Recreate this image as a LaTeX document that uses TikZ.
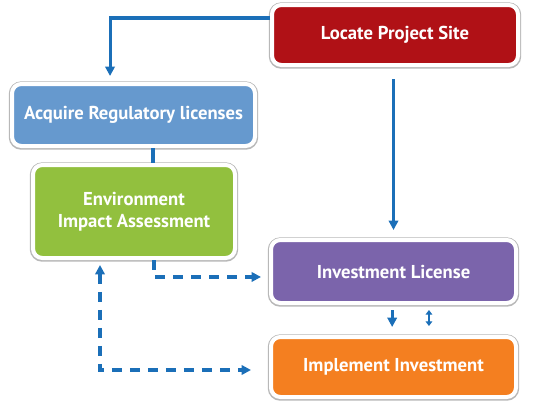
\documentclass[tikz,border=0pt]{standalone}
\usepackage{fontspec}
\setmainfont{PT Sans}
\usetikzlibrary{arrows.meta, calc}
\definecolor{locred}{RGB}{176,17,22}
\definecolor{acqblue}{RGB}{102,153,206}
\definecolor{eiagreen}{RGB}{146,192,62}
\definecolor{invpurple}{RGB}{123,100,171}
\definecolor{imporange}{RGB}{244,127,32}
\definecolor{linkblue}{RGB}{27,111,184}
\tikzset{
    stage/.style={rectangle, rounded corners=7pt, fill=#1, draw=white, line width=3pt, text=white, align=center, font=\fontsize{14}{16.5}\selectfont\bfseries, inner sep=2pt, preaction={draw=black!28, line width=4.8pt, transform canvas={yshift=-0.4pt}}},
    link/.style={line width=2.3pt, color=linkblue},
    flow/.style={link, -{Triangle[length=7pt, width=7pt]}},
    flowdash/.style={flow, dash pattern=on 7.5pt off 6pt},
    flowdashboth/.style={flowdash, {Triangle[length=7pt, width=7pt]}-{Triangle[length=7pt, width=7pt]}},
    % small two-way hint between license and implementation
    twoway/.style={line width=1.3pt, color=linkblue, dash pattern=on 6pt off 3pt, {Triangle[length=3.5pt, width=5pt]}-{Triangle[length=3.5pt, width=5pt]}}
}

\begin{document}
\begin{tikzpicture}[x=0.75pt, y=-0.75pt]
    \useasboundingbox (0,0) rectangle (539,400);
    \node[stage=locred, minimum width=184.5pt, minimum height=45pt] (loc) at (395,35) {Locate Project Site};
    \node[stage=acqblue, minimum width=182.25pt, minimum height=46.5pt] (acq) at (133.5,115) {Acquire Regulatory licenses};
    \node[stage=eiagreen, minimum width=151.5pt, minimum height=69.75pt] (eia) at (134,211.5) {Environment\\Impact Assessment};
    \node[stage=invpurple, minimum width=183.75pt, minimum height=47.25pt] (inv) at (393.5,271.5) {Investment License};
    \node[stage=imporange, minimum width=183.75pt, minimum height=45pt] (imp) at (393.5,367) {Implement Investment};

    \draw[flow] ([yshift=12.75pt]loc.west) -| ([xshift=-17.6pt, yshift=4.5pt]acq.north);
    \draw[flow, shorten <=9pt, shorten >=6pt] (inv.north |- loc.south) -- (inv.north);
    \draw[link] ([xshift=14.6pt]acq.south) -- ([xshift=14.6pt]acq.south |- eia.north);
    \draw[flowdash, shorten >=6pt] ([xshift=15pt]eia.south) |- ([yshift=-4.1pt]inv.west);
    \draw[flowdashboth, shorten <=3.75pt, shorten >=13.5pt] ([xshift=-25.5pt]eia.south) |- ([yshift=-2.25pt]imp.west);
    \draw[flow, shorten <=3.75pt, shorten >=6pt] ([xshift=-1pt]inv.south) -- ([xshift=-1pt]imp.north);
    \draw[twoway, shorten <=3.75pt, shorten >=6.75pt] ([xshift=26.6pt]inv.south) -- ([xshift=26.6pt]imp.north);
\end{tikzpicture}
\end{document}
